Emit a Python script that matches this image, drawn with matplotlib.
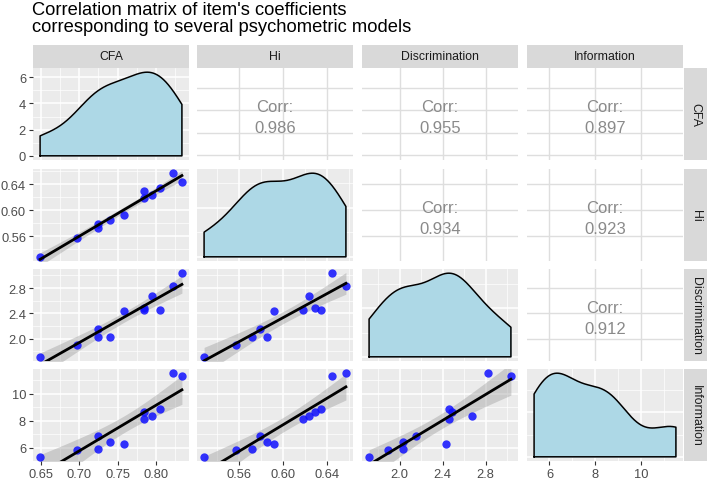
import numpy as np
import matplotlib
matplotlib.use("Agg")
import matplotlib.pyplot as plt
from matplotlib.ticker import FixedLocator

plt.rcParams['font.family'] = ['Liberation Sans', 'DejaVu Sans']

# item coefficients (12 items)
names = ["CFA", "Hi", "Discrimination", "Information"]
cfa = [0.649, 0.697, 0.725, 0.724, 0.740, 0.758, 0.785, 0.784, 0.795, 0.805, 0.822, 0.834]
hi = [0.528, 0.557, 0.579, 0.572, 0.585, 0.592, 0.629, 0.618, 0.623, 0.634, 0.657, 0.644]
discrimination = [1.715, 1.895, 2.15, 2.03, 2.03, 2.435, 2.49, 2.455, 2.675, 2.455, 2.825, 3.035]
information = [5.33, 5.83, 6.88, 5.90, 6.40, 6.28, 8.62, 8.15, 8.33, 8.83, 11.5, 11.27]

# correlation labels as printed in the upper panels
corr_labels = {(0, 1): "0.986", (0, 2): "0.955", (0, 3): "0.897",
               (1, 2): "0.934", (1, 3): "0.923", (2, 3): "0.912"}

# tick breaks for each variable
breaks = [[0.65, 0.70, 0.75, 0.80],
          [0.56, 0.60, 0.64],
          [2.0, 2.4, 2.8],
          [6, 8, 10]]
break_labels = [["0.65", "0.70", "0.75", "0.80"],
                ["0.56", "0.60", "0.64"],
                ["2.0", "2.4", "2.8"],
                ["6", "8", "10"]]
dens_breaks = [0, 2, 4, 6]

data = [np.array(cfa), np.array(hi), np.array(discrimination), np.array(information)]


def limits(v):
    lo, hi_ = v.min(), v.max()
    pad = (hi_ - lo) * 0.05
    return lo - pad, hi_ + pad


def minors(major, lim):
    step = major[1] - major[0]
    m = np.arange(major[0] - step / 2, lim[1] + step, step)
    return [t for t in m if lim[0] <= t <= lim[1]]


def density(v):
    # R style gaussian kde with bw.nrd0, over the data range
    n = len(v)
    sd = v.std(ddof=1)
    iqr = np.percentile(v, 75) - np.percentile(v, 25)
    bw = 0.9 * min(sd, iqr / 1.34) * n ** -0.2
    xs = np.linspace(v.min(), v.max(), 512)
    ys = np.exp(-0.5 * ((xs[:, None] - v[None, :]) / bw) ** 2).sum(axis=1)
    ys = ys / (n * bw * np.sqrt(2 * np.pi))
    return xs, ys


W, H = 709, 481
fig = plt.figure(figsize=(W / 100, H / 100), dpi=100)

col_x = [33, 197, 362, 527]
row_y = [69, 170, 270, 370]
pw, ph = 156, 92


def px_axes(x, y, w, h):
    return fig.add_axes([x / W, 1 - (y + h) / H, w / W, h / H])


fig.text(32 / W, 1 - 2 / H, "Correlation matrix of item's coefficients\ncorresponding to several psychometric models",
         ha="left", va="top", fontsize=13.2, color="black", linespacing=1.0)

for i in range(4):
    for j in range(4):
        ax = px_axes(col_x[j], row_y[i], pw, ph)
        for s in ax.spines.values():
            s.set_visible(False)
        xlim = limits(data[j])
        ax.set_xlim(xlim)
        ax.set_axisbelow(True)

        if i < j:
            # correlation text panel
            ylim = limits(data[i])
            ax.set_ylim(ylim)
            ax.set_facecolor("white")
            ax.xaxis.set_major_locator(FixedLocator(breaks[j]))
            ax.yaxis.set_major_locator(FixedLocator(breaks[i]))
            ax.grid(True, which="major", color="#DEDEDE", lw=1.0)
            ax.text(0.5, 0.47, "Corr:\n" + corr_labels[(i, j)], transform=ax.transAxes,
                    ha="center", va="center", fontsize=12, color="#8A8A8A", linespacing=1.5)
        elif i == j:
            # density on the diagonal
            xs, ys = density(data[i])
            top = ys.max()
            ax.set_ylim(-0.05 * top, top * 1.05)
            ax.set_facecolor("#EBEBEB")
            ax.fill_between(xs, 0, ys, color="#ADD8E6", lw=0)
            ox = np.concatenate([[xs[0]], xs, [xs[-1], xs[0]]])
            oy = np.concatenate([[0], ys, [0, 0]])
            ax.plot(ox, oy, color="black", lw=1.1)
            ax.xaxis.set_major_locator(FixedLocator(breaks[j]))
            ax.xaxis.set_minor_locator(FixedLocator(minors(breaks[j], xlim)))
            if i == 0:
                yb = dens_breaks
            else:
                yb = list(ax.yaxis.get_major_locator().tick_values(0, top))
                yb = [t for t in yb if 0 <= t <= top * 1.05]
            ax.yaxis.set_major_locator(FixedLocator(yb))
            ax.yaxis.set_minor_locator(FixedLocator(minors(yb, ax.get_ylim())))
            ax.grid(True, which="major", color="white", lw=1.1)
            ax.grid(True, which="minor", color="white", lw=0.5)
        else:
            # scatter with linear fit and 95% band
            x, y = data[j], data[i]
            ylim = limits(y)
            ax.set_ylim(ylim)
            ax.set_facecolor("#EBEBEB")
            ax.xaxis.set_major_locator(FixedLocator(breaks[j]))
            ax.xaxis.set_minor_locator(FixedLocator(minors(breaks[j], xlim)))
            ax.yaxis.set_major_locator(FixedLocator(breaks[i]))
            ax.yaxis.set_minor_locator(FixedLocator(minors(breaks[i], ylim)))
            ax.grid(True, which="major", color="white", lw=1.1)
            ax.grid(True, which="minor", color="white", lw=0.5)

            n = len(x)
            b, a = np.polyfit(x, y, 1)
            res = y - (a + b * x)
            s = np.sqrt((res ** 2).sum() / (n - 2))
            xf = np.linspace(x.min(), x.max(), 80)
            yf = a + b * xf
            se = s * np.sqrt(1 / n + (xf - x.mean()) ** 2 / ((x - x.mean()) ** 2).sum())
            t = 2.228  # t(0.975, df=10)
            ax.fill_between(xf, yf - t * se, yf + t * se, color="#999999", alpha=0.4, lw=0, zorder=2)
            ax.scatter(x, y, s=36, color="#1010FF", alpha=0.85, lw=0, zorder=3)
            ax.plot(xf, yf, color="black", lw=2.0, zorder=4)

        # axis labels only on the outer edges
        ax.tick_params(which="both", length=0, labelleft=False, labelbottom=False)
        if j == 0:
            ax.tick_params(axis="y", which="major", length=3, color="#333333", width=0.8,
                           labelleft=True, labelsize=9.3, labelcolor="#4D4D4D", pad=2)
            if i == 0:
                ax.set_yticks(dens_breaks)
                ax.set_yticklabels([str(t) for t in dens_breaks])
            else:
                ax.set_yticklabels(break_labels[i])
        if i == 3:
            ax.tick_params(axis="x", which="major", length=3, color="#333333", width=0.8,
                           labelbottom=True, labelsize=9.3, labelcolor="#4D4D4D", pad=2)
            ax.set_xticklabels(break_labels[j])

# strips on top and right
for j in range(4):
    sx = px_axes(col_x[j], 46, pw, 23)
    sx.set_facecolor("#D9D9D9")
    sx.set_xticks([])
    sx.set_yticks([])
    for s in sx.spines.values():
        s.set_visible(False)
    sx.text(0.5, 0.5, names[j], ha="center", va="center", fontsize=8.8, color="#1A1A1A")

for i in range(4):
    sy = px_axes(684, row_y[i], 23, ph)
    sy.set_facecolor("#D9D9D9")
    sy.set_xticks([])
    sy.set_yticks([])
    for s in sy.spines.values():
        s.set_visible(False)
    sy.text(0.5, 0.5, names[i], ha="center", va="center", fontsize=8.8, color="#1A1A1A", rotation=-90)

fig.savefig("out.png", dpi=100)
